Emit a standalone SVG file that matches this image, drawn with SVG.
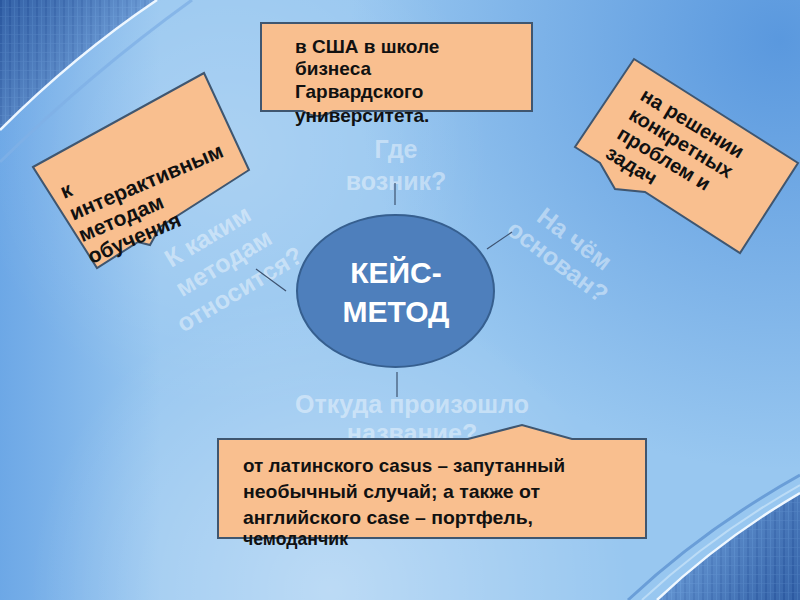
<svg xmlns="http://www.w3.org/2000/svg" width="800" height="600" viewBox="0 0 800 600">
<defs>
<style>
.box{fill:#f9bf8f;stroke:#3f5670;stroke-width:2;stroke-linejoin:miter}
.bt{font-family:"Liberation Sans",Arial,sans-serif;font-weight:bold;fill:#111}
.faint{font-family:"Liberation Sans",Arial,sans-serif;font-weight:bold;font-size:25px;fill:#ffffff;fill-opacity:0.42;text-anchor:middle}
.conn{stroke:#3d5270;stroke-width:1.2;fill:none}
.ct{font-family:"Liberation Sans",Arial,sans-serif;font-weight:bold;font-size:30px;fill:#ffffff;text-anchor:middle}
</style>
<radialGradient id="tr" cx="780" cy="40" r="430" gradientUnits="userSpaceOnUse">
<stop offset="0" stop-color="#5393dc" stop-opacity="0.9"/>
<stop offset="1" stop-color="#5393dc" stop-opacity="0"/>
</radialGradient>
<linearGradient id="lf" x1="0" y1="0" x2="160" y2="0" gradientUnits="userSpaceOnUse">
<stop offset="0" stop-color="#5a9ae2" stop-opacity="0.7"/>
<stop offset="1" stop-color="#5a9ae2" stop-opacity="0"/>
</linearGradient>
<radialGradient id="bl" cx="330" cy="590" r="300" gradientUnits="userSpaceOnUse">
<stop offset="0" stop-color="#ffffff" stop-opacity="0.35"/>
<stop offset="1" stop-color="#ffffff" stop-opacity="0"/>
</radialGradient>
<radialGradient id="cl" cx="230" cy="150" r="260" gradientUnits="userSpaceOnUse">
<stop offset="0" stop-color="#ffffff" stop-opacity="0.18"/>
<stop offset="1" stop-color="#ffffff" stop-opacity="0"/>
</radialGradient>
<pattern id="grid" width="9" height="9" patternUnits="userSpaceOnUse">
<rect width="9" height="9" fill="#3f6fb4"/>
<rect x="0" width="2" height="9" fill="#2e5ca4"/>
<rect x="5" width="1" height="9" fill="#4f82c4"/>
<rect y="7" width="9" height="1" fill="#5586c6" opacity="0.5"/>
</pattern>
<linearGradient id="tlg" x1="0" y1="0" x2="90" y2="70" gradientUnits="userSpaceOnUse">
<stop offset="0" stop-color="#244f95" stop-opacity="0.35"/>
<stop offset="1" stop-color="#8ab8ea" stop-opacity="0.55"/>
</linearGradient>
<linearGradient id="brg" x1="800" y1="600" x2="715" y2="535" gradientUnits="userSpaceOnUse">
<stop offset="0" stop-color="#244f95" stop-opacity="0.3"/>
<stop offset="1" stop-color="#7fb0e6" stop-opacity="0.5"/>
</linearGradient>
</defs>

<g id="background">
<rect width="800" height="600" fill="#98c7f0"/>
<rect width="800" height="600" fill="url(#tr)"/>
<rect width="800" height="600" fill="url(#lf)"/>
<rect width="800" height="600" fill="url(#bl)"/>
<rect width="800" height="600" fill="url(#cl)"/>
<path d="M0,162 Q92,72 192,0" fill="none" stroke="#7fb0e6" stroke-width="3" opacity="0.8"/>
<path d="M0,0 H157 Q75,55 0,130 Z" fill="url(#grid)"/>
<path d="M0,0 H157 Q75,55 0,130 Z" fill="url(#tlg)"/>
<path d="M0,130 Q75,55 157,0" fill="none" stroke="#eef7ff" stroke-width="2.5"/>
<path d="M628,600 Q705,528 800,475" fill="none" stroke="#6a9ed8" stroke-width="3"/>
<path d="M642,600 Q712,535 800,485" fill="none" stroke="#bcdcf6" stroke-width="2"/>
<path d="M657,600 Q720,540 800,493 V600 Z" fill="url(#grid)"/>
<path d="M657,600 Q720,540 800,493 V600 Z" fill="url(#brg)"/>
<path d="M657,600 Q720,540 800,493" fill="none" stroke="#f0f8ff" stroke-width="2.5"/>
</g>

<g id="labels">
<text class="faint" x="396" y="158">Где</text>
<text class="faint" x="396" y="190">возник?</text>
<g transform="translate(561,257) rotate(37)">
<text class="faint" x="0" y="-14">На чём</text>
<text class="faint" x="0" y="14">основан?</text>
</g>
<g transform="translate(228,270) rotate(-31)">
<text class="faint" x="0" y="-31">К каким</text>
<text class="faint" x="0" y="0">методам</text>
<text class="faint" x="0" y="31">относится?</text>
</g>
<text class="faint" x="412" y="413">Откуда произошло</text>
<text class="faint" x="412" y="442">название?</text>
</g>

<g id="connectors">
<line class="conn" x1="395" y1="183" x2="395" y2="205"/>
<line class="conn" x1="487" y1="249" x2="512" y2="232"/>
<line class="conn" x1="256" y1="269" x2="286" y2="291"/>
<line class="conn" x1="397" y1="372" x2="397" y2="397"/>
</g>

<g id="center">
<ellipse cx="395.5" cy="291" rx="98.5" ry="76" fill="#4e7fbc" stroke="#365f8f" stroke-width="2"/>
<text class="ct" x="396" y="283">КЕЙС-</text>
<text class="ct" x="396" y="322">МЕТОД</text>
</g>

<g id="box-top">
<path class="box" d="M261,23 H532 V111 H333 Q318,121 303,111 H261 Z"/>
<text class="bt" font-size="19" x="295" y="53">в США в школе</text>
<text class="bt" font-size="19" x="295" y="75">бизнеса</text>
<text class="bt" font-size="19" x="295" y="98">Гарвардского</text>
<text class="bt" font-size="19" x="295" y="122">университета.</text>
</g>

<g id="box-left">
<polygon class="box" points="33,167 204,73 249,170 160,227 150,245 138,242 97,268"/>
<g transform="translate(64,199) rotate(-23)">
<text class="bt" font-size="21" x="0" y="0">к</text>
<text class="bt" font-size="21" x="0" y="23.5">интерактивным</text>
<text class="bt" font-size="21" x="0" y="47">методам</text>
<text class="bt" font-size="21" x="0" y="70.5">обучения</text>
</g>
</g>

<g id="box-right">
<polygon class="box" points="634,59 798,163 740,253 645,192 615,189 600,163 575,147"/>
<g transform="translate(639,99) rotate(31)">
<text class="bt" font-size="20" x="0" y="0">на решении</text>
<text class="bt" font-size="20" x="0" y="22.5">конкретных</text>
<text class="bt" font-size="20" x="0" y="45">проблем и</text>
<text class="bt" font-size="20" x="0" y="67.5">задач</text>
</g>
</g>

<g id="box-bottom">
<path class="box" d="M218,439 H468 L522,425 L572,439 H646 V538 H218 Z"/>
<text class="bt" font-size="19" x="243" y="472" textLength="322" lengthAdjust="spacingAndGlyphs">от латинского casus – запутанный</text>
<text class="bt" font-size="19" x="243" y="498" textLength="297" lengthAdjust="spacingAndGlyphs">необычный случай; а также от</text>
<text class="bt" font-size="19" x="243" y="524" textLength="290" lengthAdjust="spacingAndGlyphs">английского case – портфель,</text>
<text class="bt" font-size="19" x="243" y="545" textLength="105" lengthAdjust="spacingAndGlyphs">чемоданчик</text>
</g>
</svg>
